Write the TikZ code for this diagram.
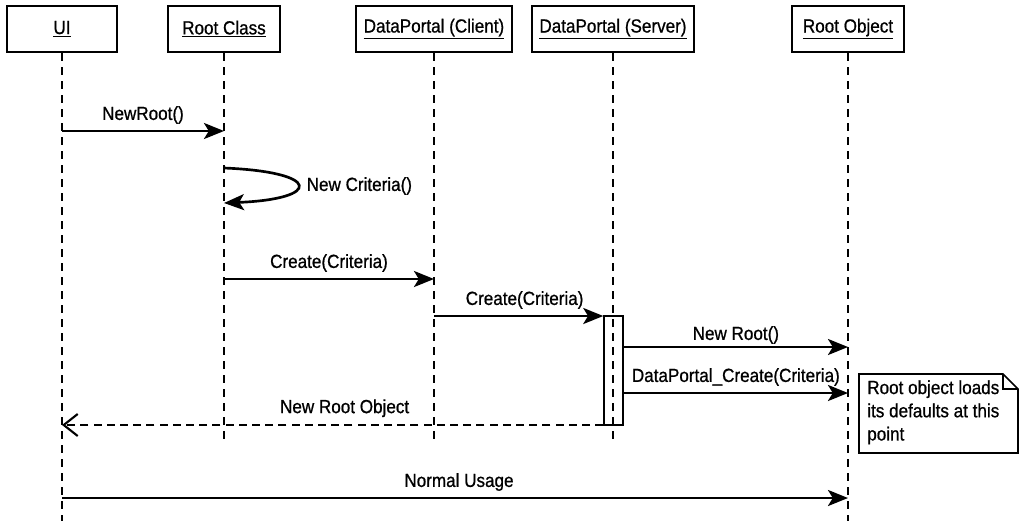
\documentclass[tikz,border=0pt]{standalone}
\usepackage{fontspec}
\setmainfont[FakeStretch=0.9,FakeBold=0.8]{Liberation Sans}
\usetikzlibrary{arrows.meta}
\tikzset{
  obj/.style={draw, line width=1.5pt, minimum height=1.15cm, inner sep=0pt},
  life/.style={line width=1.7pt, dash pattern=on 0.2cm off 0.15cm},
  msg/.style={line width=1.9pt, -{Stealth[length=0.5cm,width=0.4cm,inset=0.12cm]}},
  ret/.style={line width=1.5pt, dash pattern=on 0.2cm off 0.13cm, -{Straight Barb[length=0.35cm,width=0.55cm]}},
  lbl/.style={inner sep=1pt}
}
\begin{document}
\begin{tikzpicture}[x=0.025cm, y=-0.025cm, font=\fontsize{13.5}{16}\selectfont]
\useasboundingbox (0,0) rectangle (1019,521);
% objects
\node[obj, minimum width=2.75cm] (ui) at (62,29) {\underline{UI}};
\node[obj, minimum width=2.78cm] (rootclass) at (224,29) {\underline{Root Class}};
\node[obj, minimum width=3.88cm] (client) at (434,29) {\underline{DataPortal (Client)}};
\node[obj, minimum width=4.03cm] (server) at (613,29) {\underline{DataPortal (Server)}};
\node[obj, minimum width=2.78cm] (rootobj) at (848,29) {\underline{Root Object}};
% lifelines
\coordinate (endshort) at (0,443);
\coordinate (endlong) at (0,521);
\draw[life] (ui.south) -- (ui |- endlong);
\draw[life] (rootclass.south) -- (rootclass |- endshort);
\draw[life] (client.south) -- (client |- endshort);
\draw[life] (server.south) -- (server |- endshort);
\draw[life] (rootobj.south) -- (rootobj |- endlong);
% activation
\node[draw, line width=1.2pt, minimum width=0.47cm, minimum height=2.72cm, inner sep=0pt] (act) at (613.5,370.5) {};
% messages
\coordinate (m1) at (0,131);
\coordinate (m2a) at (0,168);
\coordinate (m2b) at (0,203);
\coordinate (m3) at (0,279);
\coordinate (m4) at (0,316);
\coordinate (m5) at (0,347);
\coordinate (m6) at (0,393);
\coordinate (m7) at (0,425);
\coordinate (m8) at (0,498);
\draw[msg] (ui |- m1) -- node[lbl, above=0.4cm, anchor=center] (l1) {NewRoot()} (rootclass |- m1);
\draw[msg] (rootclass |- m2a) .. controls (322,172) and (322,199) .. (rootclass |- m2b);
\node[lbl, anchor=west] (l2) at (305,186) {New Criteria()};
\draw[msg] (rootclass |- m3) -- node[lbl, above=0.4cm, anchor=center] (l3) {Create(Criteria)} (client |- m3);
\draw[msg] (client |- m4) -- node[lbl, above=0.4cm, anchor=center, xshift=0.15cm] (l4) {Create(Criteria)} (act.west |- m4);
\draw[msg] (act.east |- m5) -- node[lbl, above=0.3cm, anchor=center] (l5) {New Root()} (rootobj |- m5);
\draw[msg] (act.east |- m6) -- node[lbl, above=0.4cm, anchor=center] (l6) {DataPortal\_Create(Criteria)} (rootobj |- m6);
\draw[ret] (act.west |- m7) -- node[lbl, above=0.42cm, anchor=center, xshift=0.3cm] (l7) {New Root Object} (ui |- m7);
\draw[msg] (ui |- m8) -- node[lbl, above=0.4cm, anchor=center, xshift=0.1cm] (l8) {Normal Usage} (rootobj |- m8);
% note
\node[anchor=north west, align=left, inner sep=0pt, font=\fontsize{13.5}{16.5}\selectfont] (note) at (867,380) {Root object loads\\its defaults at this\\point};
\draw[line width=1.2pt] (859,374) -- (1003,374) -- (1018,389) -- (1018,453) -- (859,453) -- cycle;
\draw[line width=1.2pt] (1003,374) -- (1003,389) -- (1018,389);
\end{tikzpicture}
\end{document}
